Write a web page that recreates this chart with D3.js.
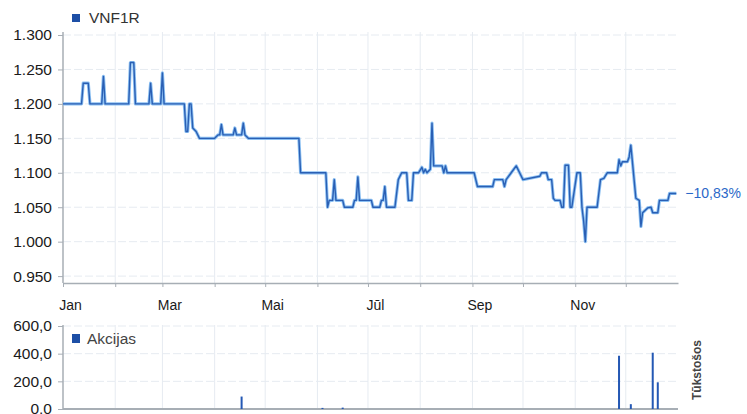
<!DOCTYPE html>
<html>
<head>
<meta charset="utf-8">
<script src="https://cdn.jsdelivr.net/npm/d3@7"></script>
<style>
  body { margin: 0; background: #fff; }
  svg { display: block; font-family: "Liberation Sans", Arial, sans-serif; }
  .axis path, .axis line { stroke: #a7aeb5; }
  .axis text { fill: #1a1a1a; }
</style>
</head>
<body>
<svg id="chart" width="747" height="414"></svg>
<script>
// price series (VNF1R)
const priceDates = [
  "2011-01-01","2011-01-12","2011-01-13","2011-01-16","2011-01-17","2011-01-24","2011-01-25","2011-01-26",
  "2011-02-09","2011-02-10","2011-02-12","2011-02-13","2011-02-21","2011-02-22","2011-02-23","2011-02-28",
  "2011-03-01","2011-03-02","2011-03-14","2011-03-15","2011-03-16","2011-03-17","2011-03-18","2011-03-19","2011-03-21","2011-03-23",
  "2011-04-01","2011-04-03","2011-04-04","2011-04-05","2011-04-06","2011-04-12","2011-04-13","2011-04-14","2011-04-17","2011-04-18","2011-04-19","2011-04-21",
  "2011-05-21","2011-05-22",
  "2011-06-06","2011-06-07","2011-06-08","2011-06-10","2011-06-11","2011-06-12","2011-06-16","2011-06-17","2011-06-22","2011-06-23","2011-06-24","2011-06-25","2011-06-26",
  "2011-07-03","2011-07-04","2011-07-08","2011-07-09","2011-07-10","2011-07-11","2011-07-12","2011-07-17","2011-07-19","2011-07-21","2011-07-24","2011-07-25","2011-07-27","2011-07-28","2011-07-31",
  "2011-08-02","2011-08-03","2011-08-04","2011-08-05","2011-08-07","2011-08-08","2011-08-09","2011-08-14","2011-08-15","2011-08-16","2011-08-17",
  "2011-09-02","2011-09-04","2011-09-13","2011-09-14","2011-09-19","2011-09-20","2011-09-21","2011-09-24","2011-09-27","2011-09-29",
  "2011-10-01","2011-10-11","2011-10-12","2011-10-15","2011-10-16","2011-10-18","2011-10-19","2011-10-20","2011-10-23","2011-10-24","2011-10-25","2011-10-26","2011-10-28","2011-10-29","2011-10-30",
  "2011-11-02","2011-11-04","2011-11-05","2011-11-06","2011-11-07","2011-11-08","2011-11-14","2011-11-16","2011-11-18","2011-11-20","2011-11-26","2011-11-27","2011-11-28","2011-11-29",
  "2011-12-02","2011-12-03","2011-12-04","2011-12-07","2011-12-09","2011-12-10","2011-12-11","2011-12-14","2011-12-16","2011-12-17","2011-12-20","2011-12-21","2011-12-26","2011-12-27","2011-12-31"
];
const priceValues = [
  1.20,1.20,1.23,1.23,1.20,1.20,1.24,1.20,
  1.20,1.26,1.26,1.20,1.20,1.23,1.20,1.20,
  1.245,1.20,1.20,1.16,1.16,1.20,1.20,1.165,1.16,1.15,
  1.15,1.155,1.155,1.17,1.155,1.155,1.165,1.155,1.155,1.172,1.155,1.15,
  1.15,1.10,
  1.10,1.05,1.06,1.06,1.09,1.06,1.06,1.05,1.05,1.06,1.06,1.094,1.06,
  1.06,1.05,1.05,1.06,1.06,1.08,1.05,1.05,1.09,1.10,1.10,1.06,1.06,1.10,1.10,
  1.108,1.10,1.105,1.10,1.105,1.172,1.11,1.11,1.10,1.11,1.10,
  1.10,1.08,1.08,1.09,1.09,1.08,1.09,1.10,1.11,1.10,
  1.09,1.095,1.10,1.10,1.09,1.09,1.063,1.06,1.06,1.05,1.05,1.111,1.111,1.05,1.05,
  1.10,1.10,1.05,1.03,1.00,1.05,1.05,1.09,1.092,1.10,1.10,1.119,1.11,1.116,
  1.116,1.123,1.14,1.063,1.06,1.022,1.042,1.049,1.05,1.042,1.042,1.06,1.06,1.07,1.07
];

// volume (Akcijas, thousands)
const volumeDates = ["2011-04-17","2011-06-04","2011-06-16","2011-11-27","2011-12-04","2011-12-17","2011-12-20"];
const volumeValues = [90, 8, 10, 385, 35, 407, 193];

const priceTicks = [0.95, 1.0, 1.05, 1.1, 1.15, 1.2, 1.25, 1.3];
const volumeTicks = [0, 200, 400, 600];
const monthLabels = ["Jan","Feb","Mar","Apr","Mai","Jūn","Jūl","Aug","Sep","Okt","Nov","Dec"];
const changeLabel = "−10,83%";

const parse = d3.timeParse("%Y-%m-%d");
const price = priceDates.map((d, i) => ({ date: parse(d), value: priceValues[i] }));
const volume = volumeDates.map((d, i) => ({ date: parse(d), value: volumeValues[i] }));

const left = 63, right = 678;
const svg = d3.select("#chart");

const x = d3.scaleTime()
  .domain([new Date(2011, 0, 1), new Date(2012, 0, 1)])
  .range([left, right]);
const months = d3.timeMonth.range(new Date(2011, 0, 1), new Date(2012, 0, 1));

// ---- price panel ----
const y = d3.scaleLinear().domain([0.94, 1.30]).range([283, 35]);

const grid = svg.append("g").attr("stroke", "#e6ebf1").attr("stroke-width", 1);
grid.selectAll(".vg").data(months.slice(1)).enter().append("line")
  .attr("x1", d => x(d)).attr("x2", d => x(d))
  .attr("y1", 32).attr("y2", 283);
grid.selectAll(".hg").data(priceTicks).enter().append("line")
  .attr("x1", left).attr("x2", right)
  .attr("y1", d => y(d)).attr("y2", d => y(d))
  .attr("stroke-dasharray", "8,3");

svg.append("g")
  .attr("class", "axis")
  .attr("transform", `translate(${left},0)`)
  .call(d3.axisLeft(y).tickValues(priceTicks).tickSize(5).tickSizeOuter(0).tickPadding(6)
    .tickFormat(d3.format(".3f")))
  .call(g => g.select(".domain").attr("d", "M0,32V283").attr("stroke-width", 1.5))
  .call(g => g.selectAll("text").attr("font-size", "15.5px"));

svg.append("g")
  .attr("class", "axis")
  .attr("transform", "translate(0,283)")
  .call(d3.axisBottom(x).tickValues(months).tickSize(4).tickSizeOuter(0).tickPadding(13)
    .tickFormat((d, i) => (i % 2 === 0 ? monthLabels[d.getMonth()] : "")))
  .call(g => g.select(".domain").attr("stroke-width", 1.5))
  .call(g => g.selectAll("text").attr("font-size", "14px").attr("dx", 7));

const line = d3.line().x(d => x(d.date)).y(d => y(d.value));
svg.append("path").datum(price)
  .attr("fill", "none").attr("stroke", "#8cc0f2").attr("stroke-width", 3.2)
  .attr("stroke-linejoin", "round").attr("d", line);
svg.append("path").datum(price)
  .attr("fill", "none").attr("stroke", "#2a5fb4").attr("stroke-width", 1.4)
  .attr("stroke-linejoin", "round").attr("d", line);

const last = price[price.length - 1];
svg.append("text")
  .attr("x", x(last.date) + 9).attr("y", y(last.value)).attr("dy", "0.35em")
  .attr("font-size", "14px").attr("fill", "#2a68c8")
  .text(changeLabel);

svg.append("rect").attr("x", 72).attr("y", 14).attr("width", 8).attr("height", 8).attr("fill", "#1d4fa6");
svg.append("text").attr("x", 89).attr("y", 18).attr("dy", "0.35em")
  .attr("font-size", "15.5px").attr("fill", "#333").text("VNF1R");

// ---- volume panel ----
const yv = d3.scaleLinear().domain([0, 600]).range([409, 326]);

const vgrid = svg.append("g").attr("stroke", "#e6ebf1").attr("stroke-width", 1);
vgrid.selectAll(".vg").data(months.slice(1)).enter().append("line")
  .attr("x1", d => x(d)).attr("x2", d => x(d))
  .attr("y1", 325).attr("y2", 409);
vgrid.selectAll(".hg").data(volumeTicks.slice(1)).enter().append("line")
  .attr("x1", left).attr("x2", right)
  .attr("y1", d => yv(d)).attr("y2", d => yv(d))
  .attr("stroke-dasharray", "8,3");

svg.append("g")
  .attr("class", "axis")
  .attr("transform", `translate(${left},0)`)
  .call(d3.axisLeft(yv).tickValues(volumeTicks).tickSize(5).tickSizeOuter(0).tickPadding(6)
    .tickFormat(d => d3.format(".1f")(d).replace(".", ",")))
  .call(g => g.select(".domain").attr("d", "M0,325V409").attr("stroke-width", 1.5))
  .call(g => g.selectAll("text").attr("font-size", "15.5px"));

svg.append("line")
  .attr("x1", left).attr("x2", right).attr("y1", yv(0)).attr("y2", yv(0))
  .attr("stroke", "#a7aeb5").attr("stroke-width", 2);

svg.selectAll(".vol").data(volume).enter().append("rect")
  .attr("x", d => x(d.date) - 1)
  .attr("width", 2)
  .attr("y", d => yv(d.value))
  .attr("height", d => yv(0) - yv(d.value))
  .attr("fill", "#2458b4");

svg.append("rect").attr("x", 72).attr("y", 334).attr("width", 8).attr("height", 9).attr("fill", "#1d4fa6");
svg.append("text").attr("x", 87).attr("y", 339).attr("dy", "0.35em")
  .attr("font-size", "15.5px").attr("fill", "#444").text("Akcijas");

svg.append("text")
  .attr("transform", "translate(697,370) rotate(-90)")
  .attr("text-anchor", "middle").attr("dy", "0.35em")
  .attr("font-size", "12px").attr("font-weight", "bold").attr("fill", "#444")
  .text("Tūkstošos");
</script>
</body>
</html>
